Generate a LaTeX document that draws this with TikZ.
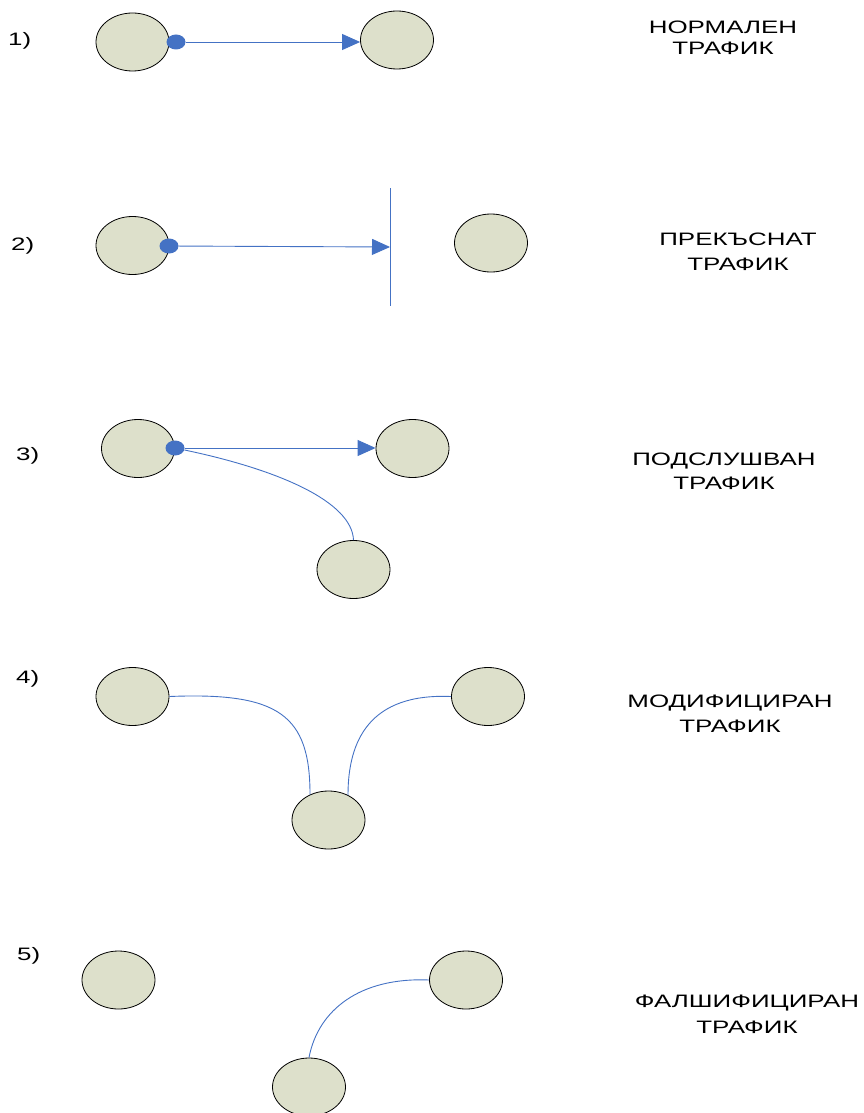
\documentclass[tikz,border=0pt]{standalone}
\usepackage{fontspec}
\setmainfont{Liberation Sans}
\newfontfamily\labfont[FakeStretch=1.44]{Liberation Sans}
\usetikzlibrary{shapes.geometric,arrows.meta}
\definecolor{hostfill}{HTML}{DDE0CB}
\definecolor{linkblue}{HTML}{4472C4}
\tikzset{
  host/.style={ellipse, draw=black, line width=0.8pt, fill=hostfill,
    minimum width=73pt, minimum height=58pt, inner sep=0pt},
  tap/.style={ellipse, fill=linkblue, draw=none,
    minimum width=19pt, minimum height=15pt, inner sep=0pt},
  link/.style={draw=linkblue, line width=0.9pt},
  flow/.style={link, -{Triangle[length=18pt,width=16pt]}},
  % anchored on the baseline of the second line
  caption/.style={font=\labfont\fontsize{18}{#1}\selectfont, align=center,
    anchor=base, inner sep=0pt},
  caption/.default=24,
  num/.style={font=\labfont\fontsize{18}{20}\selectfont, anchor=base west, inner sep=0pt}
}
\begin{document}
\begin{tikzpicture}[x=1pt,y=-1pt]
\useasboundingbox (0,0) rectangle (864,1113);

% 1) normal traffic
\node[num] (n1) at (8,45.7) {1)};
\node[host] (a1) at (132.5,42) {};
\node[host] (b1) at (397,40) {};
\node[tap] (d1) at (176,42) {};
\draw[flow] (d1) -- (d1 -| b1.west);
\node[caption=21.7] (t1) at (723,55) {НОРМАЛЕН\\ТРАФИК};

% 2) interrupted traffic
\node[num] (n2) at (11,250.7) {2)};
\node[host] (a2) at (132.5,245.5) {};
\node[host] (b2) at (491,243) {};
\node[tap] (d2) at (169,246) {};
\coordinate (w2t) at (390,188);
\coordinate (w2m) at (390,247);
\coordinate (w2b) at (390,306);
\draw[link] (w2t) -- (w2b);
\draw[flow] (d2) -- (w2m);
\node[caption=25] (t2) at (738,270) {ПРЕКЪСНАТ\\ТРАФИК};

% 3) intercepted traffic
\node[num] (n3) at (16,460) {3)};
\node[host] (a3) at (138,448.5) {};
\node[host] (b3) at (412.5,448.5) {};
\node[host] (c3) at (353.5,569.5) {};
\node[tap] (d3) at (175,448) {};
\draw[flow] (d3) -- (d3 -| b3.west);
\draw[link] (d3) .. controls (280,470) and (352,502) .. (c3.north);
\node[caption=24] (t3) at (724,489) {ПОДСЛУШВАН\\ТРАФИК};

% 4) modified traffic
\node[num] (n4) at (16,683) {4)};
\node[host] (a4) at (132.5,696.5) {};
\node[host] (b4) at (488,696.5) {};
\node[host] (c4) at (328.5,820) {};
\draw[link] (a4.east) .. controls (279,692) and (310,715) .. (c4.126);
\draw[link] (b4.west) .. controls (370,693) and (348,740) .. (c4.52);
\node[caption=25] (t4) at (730,732) {МОДИФИЦИРАН\\ТРАФИК};

% 5) fabricated traffic
\node[num] (n5) at (17,960) {5)};
\node[host] (a5) at (118.5,980) {};
\node[host] (b5) at (466,980) {};
\node[host] (c5) at (309,1087) {};
\draw[link] (b5.west) .. controls (360,977) and (318,1010) .. (c5.north);
\node[caption=26] (t5) at (747,1033) {ФАЛШИФИЦИРАН\\ТРАФИК};
\end{tikzpicture}
\end{document}
